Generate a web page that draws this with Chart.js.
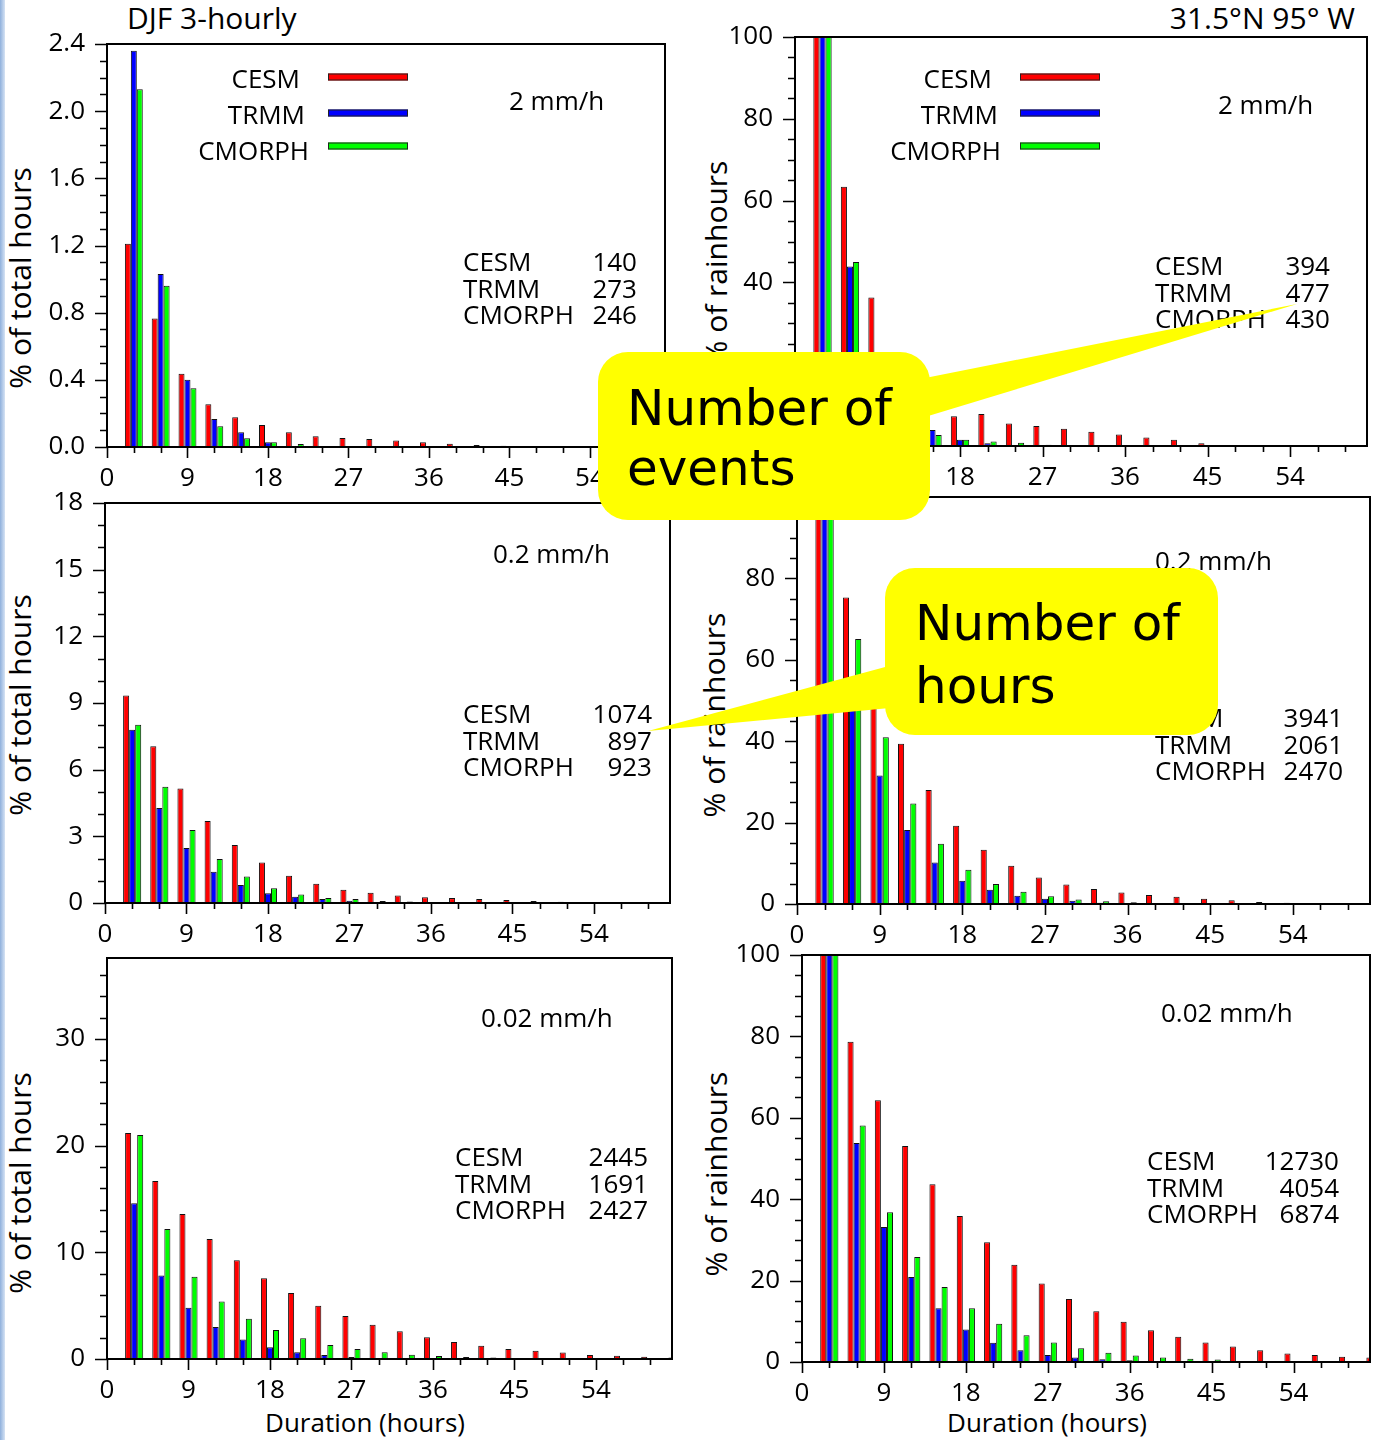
<!DOCTYPE html>
<html lang="en">
<head>
<meta charset="UTF-8">
<title>DJF 3-hourly rain event durations</title>
<style>
  body {
    margin: 0;
    width: 1375px;
    height: 1440px;
    position: relative;
    overflow: hidden;
    background: #fff;
    font-family: "Open Sans", "Noto Sans", sans-serif;
    color: #000;
  }
  .panel { position: absolute; }
  .txt { position: absolute; white-space: nowrap; line-height: 1; font-size: 26px; transform: translateY(-50%); }
  .right { transform: translate(-100%, -50%); }
  .center { transform: translate(-50%, -50%); }
  .ytitle {
    position: absolute; white-space: nowrap; line-height: 1; font-size: 30px;
    transform: translate(-50%, -50%) rotate(-90deg);
  }
  .swatch { position: absolute; width: 78px; height: 5px; border: 1px solid #222; transform: translateY(-50%); }
  .stripe {
    position: absolute; left: 0; top: 0; width: 5px; height: 1440px;
    background: linear-gradient(to right, #8fb0dc, #d6e3f4);
  }
  #callouts { position: absolute; left: 0; top: 0; }
  #callouts text { font-family: "Comic Sans MS", "DejaVu Sans", sans-serif; font-size: 50px; fill: #000; }
</style>
</head>
<body>
<div class="stripe"></div>

<!-- titles -->
<div class="txt" style="left:127px; top:18px; font-size:30px;">DJF 3-hourly</div>
<div class="txt right" style="left:1355px; top:18px; font-size:30px;">31.5°N 95° W</div>

<!-- y axis titles -->
<div class="ytitle" style="left:20px; top:278px;">% of total hours</div>
<div class="ytitle" style="left:716px; top:263px;">% of rainhours</div>
<div class="ytitle" style="left:20px; top:705px;">% of total hours</div>
<div class="ytitle" style="left:714px; top:715px;">% of rainhours</div>
<div class="ytitle" style="left:20px; top:1183px;">% of total hours</div>
<div class="ytitle" style="left:716px; top:1174px;">% of rainhours</div>

<!-- x axis titles -->
<div class="txt center" style="left:365px; top:1422px;">Duration (hours)</div>
<div class="txt center" style="left:1047px; top:1422px;">Duration (hours)</div>

<div class="panel" id="tl"><canvas id="c_tl"></canvas></div>
<div class="panel" id="tr"><canvas id="c_tr"></canvas></div>
<div class="panel" id="ml"><canvas id="c_ml"></canvas></div>
<div class="panel" id="mr"><canvas id="c_mr"></canvas></div>
<div class="panel" id="bl"><canvas id="c_bl"></canvas></div>
<div class="panel" id="br"><canvas id="c_br"></canvas></div>

<!-- legends -->
<div class="txt right" style="left:300px; top:78px;">CESM</div>
<div class="txt right" style="left:305px; top:114px;">TRMM</div>
<div class="txt right" style="left:309px; top:150px;">CMORPH</div>
<div class="swatch" style="left:328px; top:77px; background:#ff0000;"></div>
<div class="swatch" style="left:328px; top:113px; background:#0000ff;"></div>
<div class="swatch" style="left:328px; top:146px; background:#00ff00;"></div>

<div class="txt right" style="left:992px; top:78px;">CESM</div>
<div class="txt right" style="left:998px; top:114px;">TRMM</div>
<div class="txt right" style="left:1001px; top:150px;">CMORPH</div>
<div class="swatch" style="left:1020px; top:77px; background:#ff0000;"></div>
<div class="swatch" style="left:1020px; top:113px; background:#0000ff;"></div>
<div class="swatch" style="left:1020px; top:146px; background:#00ff00;"></div>

<!-- thresholds -->
<div class="txt" style="left:509px; top:100px;">2 mm/h</div>
<div class="txt" style="left:1218px; top:104px;">2 mm/h</div>
<div class="txt" style="left:493px; top:553px;">0.2 mm/h</div>
<div class="txt" style="left:1155px; top:560px;">0.2 mm/h</div>
<div class="txt" style="left:481px; top:1017px;">0.02 mm/h</div>
<div class="txt" style="left:1161px; top:1012px;">0.02 mm/h</div>

<div id="tables"></div>

<svg id="callouts" width="1375" height="1440">
  <g fill="#ffff00">
    <rect x="598" y="352" width="332" height="168" rx="30"></rect>
    <polygon points="915,380 915,420 1297,304"></polygon>
    <rect x="885" y="568" width="333" height="167" rx="30"></rect>
    <polygon points="900,663 900,707 648,731"></polygon>
  </g>
  <text x="627" y="425">Number of</text>
  <text x="627" y="485">events</text>
  <text x="915" y="640">Number of</text>
  <text x="915" y="703">hours</text>
</svg>

<script src="https://cdn.jsdelivr.net/npm/chart.js"></script>
<script>
// durations (hours) of the event classes
const durations = [3, 6, 9, 12, 15, 18, 21, 24, 27, 30, 33, 36, 39, 42, 45, 48, 51, 54, 57, 60, 63];
const seriesNames = ['CESM', 'TRMM', 'CMORPH'];

// 2 mm/h, % of total hours
const cesm2h   = [1.21, 0.765, 0.436, 0.255, 0.177, 0.131, 0.088, 0.064, 0.054, 0.048, 0.038, 0.028, 0.02, 0.012, 0.008, 0.004, 0, 0, 0, 0, 0];
const trmm2h   = [2.36, 1.03, 0.40, 0.167, 0.088, 0.028, 0.005, 0, 0, 0, 0, 0, 0, 0, 0, 0, 0, 0, 0, 0, 0];
const cmorph2h = [2.13, 0.96, 0.35, 0.124, 0.052, 0.028, 0.018, 0.005, 0, 0, 0, 0, 0, 0, 0, 0, 0, 0, 0, 0, 0];
// 2 mm/h, % of rainhours
const cesm2hR   = [100, 63.4, 36.3, 18, 11, 7.3, 7.8, 5.5, 4.9, 4.2, 3.5, 2.8, 2.1, 1.5, 0.7, 0, 0, 0, 0, 0, 0];
const trmm2hR   = [100, 43.9, 20, 8, 3.9, 1.5, 0.7, 0, 0, 0, 0, 0, 0, 0, 0, 0, 0, 0, 0, 0, 0];
const cmorph2hR = [100, 45.0, 19, 7, 2.7, 1.5, 1.1, 0.8, 0.3, 0, 0, 0, 0, 0, 0, 0, 0, 0, 0, 0, 0];

// 0.2 mm/h, % of total hours
const cesm02   = [9.34, 7.05, 5.15, 3.69, 2.61, 1.82, 1.23, 0.87, 0.60, 0.46, 0.34, 0.26, 0.22, 0.18, 0.13, 0.09, 0.06, 0.04, 0.02, 0, 0];
const trmm02   = [7.80, 4.27, 2.47, 1.41, 0.81, 0.44, 0.28, 0.18, 0.10, 0.04, 0.02, 0.01, 0, 0, 0, 0, 0, 0, 0, 0, 0];
const cmorph02 = [8.02, 5.23, 3.29, 1.98, 1.19, 0.66, 0.38, 0.23, 0.18, 0.09, 0.07, 0.03, 0.02, 0, 0, 0, 0, 0, 0, 0, 0];
// 0.2 mm/h, % of rainhours
const cesm02R   = [100, 75.3, 53, 39.4, 28.0, 19.2, 13.3, 9.4, 6.5, 4.8, 3.7, 2.8, 2.2, 1.8, 1.3, 0.9, 0.5, 0.3, 0.1, 0, 0];
const trmm02R   = [100, 50, 31.6, 18.2, 10.2, 5.7, 3.5, 2.0, 1.3, 0.8, 0.3, 0.1, 0, 0, 0, 0, 0, 0, 0, 0, 0];
const cmorph02R = [100, 65.1, 41.0, 24.7, 14.8, 8.4, 4.9, 3.0, 1.9, 1.1, 0.65, 0.4, 0.2, 0, 0, 0, 0, 0, 0, 0, 0];

// 0.02 mm/h, % of total hours
const cesm002   = [21.2, 16.7, 13.6, 11.25, 9.25, 7.56, 6.19, 5.0, 4.03, 3.22, 2.6, 2.03, 1.6, 1.25, 0.94, 0.78, 0.6, 0.38, 0.31, 0.22, 0.15];
const trmm002   = [14.6, 7.84, 4.81, 3.0, 1.84, 1.1, 0.63, 0.38, 0.19, 0.1, 0.05, 0, 0, 0, 0, 0, 0, 0, 0, 0, 0];
const cmorph002 = [21.0, 12.2, 7.72, 5.4, 3.78, 2.72, 1.94, 1.31, 0.94, 0.63, 0.41, 0.28, 0.19, 0.15, 0.1, 0.05, 0, 0, 0, 0, 0];
// 0.02 mm/h, % of rainhours
const cesm002R   = [100, 78.7, 64.3, 53.1, 43.7, 35.9, 29.4, 23.9, 19.3, 15.5, 12.5, 9.9, 7.8, 6.2, 4.8, 3.8, 2.9, 2.1, 1.7, 1.3, 1.1];
const trmm002R   = [100, 53.8, 33.2, 20.9, 13.2, 8.0, 4.7, 2.9, 1.7, 1.1, 0.7, 0.4, 0.2, 0.1, 0, 0.2, 0, 0, 0, 0, 0];
const cmorph002R = [100, 58.1, 36.8, 25.8, 18.4, 13.2, 9.4, 6.6, 4.8, 3.4, 2.3, 1.6, 1.1, 0.8, 0.6, 0.2, 0.2, 0, 0, 0, 0];

// number of events / hours shown in each panel (CESM, TRMM, CMORPH)
const counts2h   = [140, 273, 246];
const counts2hR  = [394, 477, 430];
const counts02   = [1074, 897, 923];
const counts02R  = [3941, 2061, 2470];
const counts002  = [2445, 1691, 2427];
const counts002R = [12730, 4054, 6874];

const colors = ['#ff0000', '#0000ff', '#00ff00'];

// frame plus NCL-like outward tick marks (long on labelled ticks, short otherwise)
const frameTicks = {
  id: 'frameTicks',
  afterDraw(chart) {
    const ctx = chart.ctx, a = chart.chartArea;
    const xs = chart.scales.x, ys = chart.scales.y;
    const o = chart.options.plugins.frameTicks;
    ctx.save();
    ctx.strokeStyle = '#000';
    ctx.lineWidth = 1.6;
    ctx.beginPath();
    xs.ticks.forEach(t => {
      const p = Math.round(xs.getPixelForValue(t.value)) + 0.5;
      const len = isEvery(t.value, 9) ? 11 : 6;
      ctx.moveTo(p, a.bottom); ctx.lineTo(p, a.bottom + len);
    });
    ys.ticks.forEach(t => {
      const p = Math.round(ys.getPixelForValue(t.value)) + 0.5;
      const len = isEvery(t.value, o.every) ? 12 : 7;
      ctx.moveTo(a.left, p); ctx.lineTo(a.left - len, p);
    });
    ctx.stroke();
    ctx.lineWidth = 2;
    ctx.strokeRect(a.left, a.top, a.right - a.left, a.bottom - a.top);
    ctx.restore();
  }
};

function isEvery(v, every) {
  const r = v / every;
  return Math.abs(r - Math.round(r)) < 1e-6;
}

function makePanel(id, box, yMax, yStep, yEvery, decimals, series) {
  const padTop = 40, padRight = 15, yWidth = 100, xHeight = 50;
  const w = box.r - box.l + yWidth + padRight;
  const h = box.b - box.t + padTop + xHeight;
  const holder = document.getElementById(id);
  holder.style.left = (box.l - yWidth) + 'px';
  holder.style.top = (box.t - padTop) + 'px';
  const canvas = document.getElementById('c_' + id);
  canvas.width = w; canvas.height = h;
  canvas.style.width = w + 'px'; canvas.style.height = h + 'px';

  const tickFont = { family: '"Open Sans", "Noto Sans", sans-serif', size: 26 };

  new Chart(canvas, {
    type: 'bar',
    data: {
      datasets: series.map((vals, i) => ({
        label: seriesNames[i],
        data: durations.map((d, k) => ({ x: d, y: vals[k] })),
        backgroundColor: colors[i],
        borderColor: '#111',
        borderWidth: 1,
        categoryPercentage: 2 / 3,
        barPercentage: 1
      }))
    },
    options: {
      responsive: false,
      animation: false,
      layout: { padding: { top: padTop, right: padRight, left: 0, bottom: 0 } },
      plugins: {
        legend: { display: false },
        tooltip: { enabled: false },
        frameTicks: { every: yEvery }
      },
      scales: {
        x: {
          type: 'linear',
          min: 0,
          max: 62.4,
          offset: false,
          grid: { display: false, offset: false },
          border: { display: false },
          afterFit: s => { s.height = xHeight; },
          ticks: {
            stepSize: 3,
            includeBounds: false,
            autoSkip: false,
            maxRotation: 0,
            padding: 8,
            color: '#000',
            font: tickFont,
            callback: v => isEvery(v, 9) ? String(v) : ''
          }
        },
        y: {
          min: 0,
          max: yMax,
          grid: { display: false },
          border: { display: false },
          afterFit: s => { s.width = yWidth; },
          ticks: {
            stepSize: yStep,
            includeBounds: false,
            autoSkip: false,
            padding: 14,
            color: '#000',
            font: tickFont,
            callback: v => isEvery(v, yEvery) ? v.toFixed(decimals) : ''
          }
        }
      }
    },
    plugins: [frameTicks]
  });
}

makePanel('tl', { l: 107, r: 665, t: 44, b: 447 }, 2.4, 0.1, 0.4, 1, [cesm2h, trmm2h, cmorph2h]);
makePanel('tr', { l: 795, r: 1367, t: 37, b: 446 }, 100, 5, 20, 0, [cesm2hR, trmm2hR, cmorph2hR]);
makePanel('ml', { l: 105, r: 670, t: 503, b: 903 }, 18, 1, 3, 0, [cesm02, trmm02, cmorph02]);
makePanel('mr', { l: 797, r: 1370, t: 497, b: 904 }, 100, 5, 20, 0, [cesm02R, trmm02R, cmorph02R]);
makePanel('bl', { l: 107, r: 672, t: 958, b: 1359 }, 37.6, 2, 10, 0, [cesm002, trmm002, cmorph002]);
makePanel('br', { l: 802, r: 1370, t: 955, b: 1362 }, 100, 5, 20, 0, [cesm002R, trmm002R, cmorph002R]);

// count tables: name column left-aligned, number column right-aligned
function countTable(left, right, top, gap, counts) {
  const host = document.getElementById('tables');
  seriesNames.forEach((name, i) => {
    const n = document.createElement('div');
    n.className = 'txt';
    n.style.left = left + 'px';
    n.style.top = (top + i * gap) + 'px';
    n.textContent = name;
    host.appendChild(n);
    const v = document.createElement('div');
    v.className = 'txt right';
    v.style.left = right + 'px';
    v.style.top = (top + i * gap) + 'px';
    v.textContent = counts[i];
    host.appendChild(v);
  });
}
countTable(463, 637, 261, 26.5, counts2h);
countTable(1155, 1330, 265, 26.5, counts2hR);
countTable(463, 652, 713, 26.5, counts02);
countTable(1155, 1343, 717, 26.5, counts02R);
countTable(455, 648, 1156, 26.5, counts002);
countTable(1147, 1339, 1160, 26.5, counts002R);
</script>
</body>
</html>
